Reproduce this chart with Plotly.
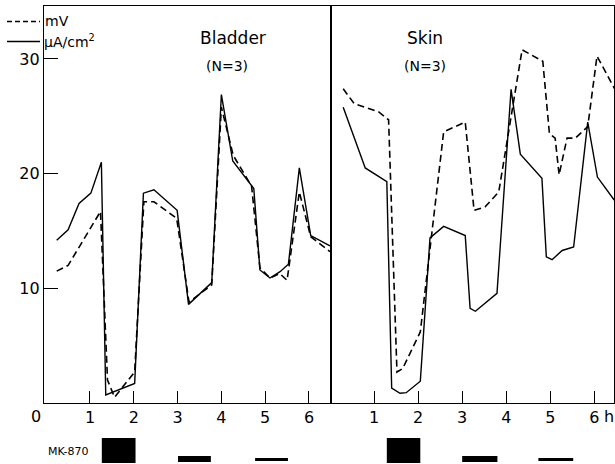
import plotly.graph_objects as go

# ---------------- data ----------------
# Bladder (N=3)
bl_ua_t = [0.24, 0.50, 0.75, 1.02, 1.26, 1.36, 2.02, 2.22, 2.46, 2.99, 3.25, 3.78, 4.00,
           4.26, 4.74, 4.88, 5.11, 5.34, 5.53, 5.78, 6.04, 6.48]
bl_ua = [14.2, 15.1, 17.4, 18.3, 21.0, 0.7, 1.7, 18.3, 18.6, 16.8, 8.6, 10.5, 26.9,
         21.1, 18.7, 11.6, 10.9, 11.45, 12.1, 20.5, 14.6, 13.7]

bl_mv_t = [0.24, 0.50, 1.24, 1.40, 1.56, 2.02, 2.23, 2.46, 2.98, 3.26, 3.78, 4.00,
           4.27, 4.69, 4.88, 5.11, 5.33, 5.50, 5.78, 6.04, 6.48]
bl_mv = [11.5, 12.0, 16.7, 2.0, 0.5, 2.7, 17.55, 17.55, 16.1, 8.8, 10.3, 25.8,
         21.6, 18.9, 11.8, 10.9, 11.3, 10.7, 18.4, 14.5, 13.2]

# Skin (N=3)
sk_ua_t = [0.30, 0.80, 1.29, 1.40, 1.59, 1.73, 2.05, 2.27, 2.58, 3.07, 3.18, 3.30, 3.79,
           4.11, 4.32, 4.81, 4.91, 5.04, 5.27, 5.53, 5.85, 6.07, 6.45]
sk_ua = [25.8, 20.5, 19.3, 1.3, 0.85, 0.9, 1.9, 14.4, 15.4, 14.6, 8.25, 8.0, 9.56,
         27.35, 21.7, 19.6, 12.75, 12.5, 13.3, 13.6, 24.5, 19.7, 17.7]

sk_mv_t = [0.30, 0.55, 1.10, 1.33, 1.52, 1.65, 2.05, 2.58, 3.07, 3.27, 3.52, 3.83,
           4.36, 4.83, 4.98, 5.11, 5.20, 5.38, 5.57, 5.85, 6.06, 6.46]
sk_mv = [27.4, 26.1, 25.4, 24.7, 2.7, 3.0, 6.2, 23.65, 24.5, 16.8, 17.1, 18.4,
         30.8, 29.8, 23.5, 23.1, 19.9, 23.1, 23.1, 24.1, 30.25, 27.4]

# MK-870 dosing periods (h)
bl_dose_start = [1.27, 3.01, 4.77]
bl_dose_end = [2.04, 3.76, 5.52]
sk_dose_start = [1.29, 3.00, 4.73]
sk_dose_end = [2.05, 3.80, 5.52]

x_ticks = [1, 2, 3, 4, 5, 6]
y_ticks = [10, 20, 30]

# ---------------- figure ----------------
FONT = "DejaVu Sans, sans-serif"
W, H = 615, 464

def px(x):
    return x / W

def py(y):
    return (H - y) / H

fig = go.Figure()

solid = dict(color="black", width=1.4)
dashed = dict(color="black", width=1.6, dash="7px,4px")

fig.add_trace(go.Scatter(x=bl_ua_t, y=bl_ua, mode="lines", line=solid, xaxis="x", yaxis="y"))
fig.add_trace(go.Scatter(x=bl_mv_t, y=bl_mv, mode="lines", line=dashed, xaxis="x", yaxis="y"))
fig.add_trace(go.Scatter(x=sk_ua_t, y=sk_ua, mode="lines", line=solid, xaxis="x2", yaxis="y2"))
fig.add_trace(go.Scatter(x=sk_mv_t, y=sk_mv, mode="lines", line=dashed, xaxis="x2", yaxis="y2"))

yr = [0, 34.62]
axis_common = dict(showgrid=False, zeroline=False, showline=True, linecolor="black",
                   linewidth=1.2, mirror=True)

fig.update_layout(
    width=W, height=H,
    margin=dict(l=0, r=0, t=0, b=0),
    paper_bgcolor="white", plot_bgcolor="white",
    showlegend=False,
    font=dict(family=FONT, color="black", size=16),
    xaxis=dict(domain=[px(44), px(331)], range=[-0.05, 6.503], tickvals=x_ticks,
               ticks="inside", ticklen=12, tickwidth=1.3, tickcolor="black",
               tickfont=dict(size=16, family=FONT), anchor="y", **axis_common),
    yaxis=dict(domain=[py(403), py(6)], range=yr, tickvals=y_ticks,
               ticks="inside", ticklen=14, tickwidth=1.3, tickcolor="black",
               tickfont=dict(size=16, family=FONT), anchor="x", **axis_common),
    xaxis2=dict(domain=[px(331), px(614)], range=[0.023, 6.446], tickvals=x_ticks,
                ticks="inside", ticklen=12, tickwidth=1.3, tickcolor="black",
                tickfont=dict(size=16, family=FONT), anchor="y2", **axis_common),
    yaxis2=dict(domain=[py(403), py(6)], range=yr, showticklabels=False, ticks="",
                anchor="x2", **axis_common),
)

annotations = [
    dict(text="Bladder", x=px(233), y=py(38), font=dict(size=17)),
    dict(text="(N=3)", x=px(227), y=py(66), font=dict(size=14)),
    dict(text="Skin", x=px(425), y=py(38), font=dict(size=17)),
    dict(text="(N=3)", x=px(425), y=py(66), font=dict(size=14)),
    dict(text="0", x=px(36), y=py(416), font=dict(size=16)),
    dict(text="h", x=px(609), y=py(416), font=dict(size=16)),
    dict(text="mV", x=px(43), y=py(21), xanchor="left", font=dict(size=14)),
    dict(text="μA/cm<sup>2</sup>", x=px(42), y=py(41), xanchor="left", font=dict(size=14)),
    dict(text="MK-870", x=px(46), y=py(451), xanchor="left", font=dict(size=11)),
]
for a in annotations:
    a.setdefault("xanchor", "center")
    fig.add_annotation(xref="paper", yref="paper", yanchor="middle", showarrow=False, **a)

# legend sample lines
fig.add_shape(type="line", xref="paper", yref="paper", x0=px(7), x1=px(40), y0=py(21.5), y1=py(21.5),
              line=dict(color="black", width=1.5, dash="5px,3px"))
fig.add_shape(type="line", xref="paper", yref="paper", x0=px(7), x1=px(40), y0=py(41.5), y1=py(41.5),
              line=dict(color="black", width=1.5))

# dosing bars (first big block, then thinner bars)
bar_px = [(438, 463), (456, 462), (458, 461)]
for xref, starts, ends in (("x", bl_dose_start, bl_dose_end), ("x2", sk_dose_start, sk_dose_end)):
    for (s, e), (top, bot) in zip(zip(starts, ends), bar_px):
        fig.add_shape(type="rect", xref=xref, yref="paper", x0=s, x1=e, y0=py(bot), y1=py(top),
                      fillcolor="black", line=dict(width=0))

fig.write_html("out.html", config={"displayModeBar": False},
               post_script="document.body.style.margin='0';document.body.style.overflow='hidden';")
